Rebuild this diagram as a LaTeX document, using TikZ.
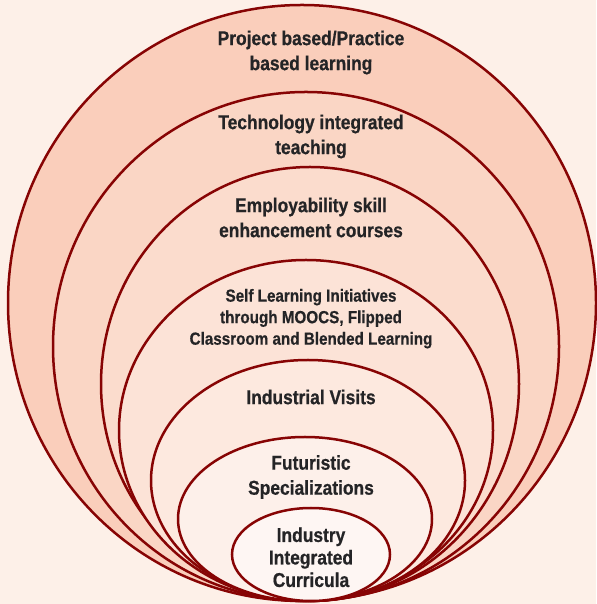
\documentclass[tikz,border=0pt]{standalone}
\usepackage{fontspec}
\usepackage{tikz}
\usepackage{xcolor}
\usetikzlibrary{shapes,positioning,shapes.geometric}
\newfontfamily\lblfont{Liberation Sans}[FakeStretch=0.87,FakeBold=0.6]
\definecolor{paper}{RGB}{253, 240, 232}
\definecolor{edge}{RGB}{135, 4, 4}
\definecolor{ink}{RGB}{36, 36, 38}
\definecolor{ringA}{RGB}{250, 206, 187}
\definecolor{ringB}{RGB}{250, 214, 197}
\definecolor{ringC}{RGB}{251, 220, 205}
\definecolor{ringD}{RGB}{252, 227, 215}
\definecolor{ringE}{RGB}{253, 233, 223}
\definecolor{ringF}{RGB}{253, 240, 234}
\definecolor{ringG}{RGB}{254, 246, 243}
\tikzstyle{ring} = [
    ellipse,
    draw=edge,
    line width=2.5pt,
    inner sep=0pt,
    outer sep=0pt,
    anchor=south
]
\tikzstyle{lbl} = [
    align=center,
    text=ink,
    inner sep=0pt,
    font=\lblfont\bfseries\fontsize{20}{25}\selectfont
]

\begin{document}
\begin{tikzpicture}[x=1pt, y=1pt]
        \fill[paper] (0,0) rectangle (596,604);
        \useasboundingbox (0,0) rectangle (596,604);

        % nested rings, all resting on the same bottom point
        \node[ring, fill=ringA, minimum width=588pt, minimum height=596pt] (pbl) at (302,3) {};
        \node[ring, fill=ringB, minimum width=506pt, minimum height=509pt] (tech) at (306,3) {};
        \node[ring, fill=ringC, minimum width=418pt, minimum height=434pt] (emp) at (310,3) {};
        \node[ring, fill=ringD, minimum width=374pt, minimum height=341pt] (self) at (306,3) {};
        \node[ring, fill=ringE, minimum width=314pt, minimum height=241pt] (visit) at (308,3) {};
        \node[ring, fill=ringF, minimum width=254pt, minimum height=164pt] (fut) at (305,3) {};
        \node[ring, fill=ringG, minimum width=158pt, minimum height=93pt] (curr) at (311,3) {};

        \node[lbl] (pbltext) at (311,551.5) {Project based/Practice\\based learning};
        \node[lbl] (techtext) at (311,467.5) {Technology integrated\\teaching};
        \node[lbl] (emptext) at (311,386.5) {Employability skill\\enhancement courses};
        \node[lbl, font=\lblfont\bfseries\fontsize{17.5}{21.5}\selectfont] (selftext) at (311,285.3)
            {Self Learning Initiatives\\through MOOCS, Flipped\\Classroom and Blended Learning};
        \node[lbl] (visittext) at (311,207) {Industrial Visits};
        \node[lbl] (futtext) at (311,127) {Futuristic\\Specializations};
        \node[lbl, font=\lblfont\bfseries\fontsize{20}{22.5}\selectfont] (currtext) at (311,46.7)
            {Industry\\Integrated\\Curricula};
    \end{tikzpicture}
\end{document}
